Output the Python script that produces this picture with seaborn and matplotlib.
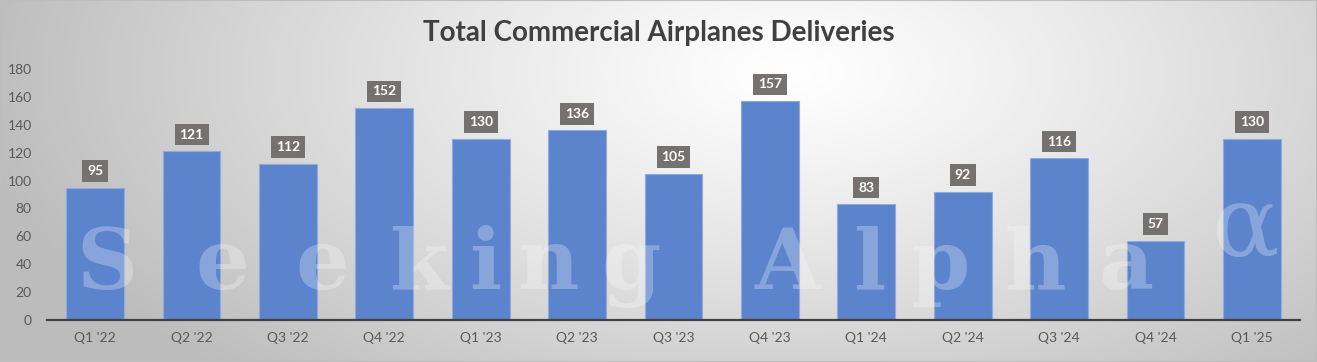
import numpy as np
import pandas as pd
import matplotlib
matplotlib.use("Agg")
import matplotlib.pyplot as plt
import seaborn as sns
from matplotlib.patches import Rectangle

quarters = ["Q1 '22", "Q2 '22", "Q3 '22", "Q4 '22", "Q1 '23", "Q2 '23", "Q3 '23",
            "Q4 '23", "Q1 '24", "Q2 '24", "Q3 '24", "Q4 '24", "Q1 '25"]
deliveries = [95, 121, 112, 152, 130, 136, 105, 157, 83, 92, 116, 57, 130]
yticks = [0, 20, 40, 60, 80, 100, 120, 140, 160, 180]
title = "Total Commercial Airplanes Deliveries"
watermark_chars = list("SeekingAlphaα")
watermark_x_px = [107, 222, 322, 419, 485, 548, 631, 788, 869, 941, 1035, 1126, 1246]

sns.set_theme(style="white")
plt.rcParams['font.family'] = ['Lato', 'DejaVu Sans']

df = pd.DataFrame({"quarter": quarters, "deliveries": deliveries})

W, H = 1317, 362
fig = plt.figure(figsize=(W / 100, H / 100), dpi=100)

# radial gradient background
bg = fig.add_axes([0, 0, 1, 1], zorder=-10)
yy, xx = np.mgrid[0:H, 0:W]
cx, cy = 0.6 * W, 0.2 * H
r = np.sqrt(((xx - cx) / W) ** 2 + ((yy - cy) / H * 0.55) ** 2)
r = np.clip(r / 0.62, 0, 1)
light, dark = 1.0, 0.74
val = light - (light - dark) * r ** 1.15
img = np.dstack([val, val, val])
bg.imshow(img, aspect='auto', extent=[0, 1, 0, 1], origin='upper')
bg.set_xlim(0, 1)
bg.set_ylim(0, 1)
bg.add_patch(Rectangle((0, 0), 1, 1, fill=False, ec="#bdbdbd", lw=1.5,
                       transform=bg.transAxes, clip_on=False))
bg.set_axis_off()

ax = fig.add_axes([47 / W, 1 - 320 / H, (1300 - 47) / W, (320 - 69) / H])
ax.patch.set_alpha(0)

sns.barplot(data=df, x="quarter", y="deliveries", ax=ax, color="#5B84CD",
            width=0.6, edgecolor="#8FAADC", linewidth=0.8, saturation=1, zorder=2)

ax.set_ylim(0, 180)
ax.set_yticks(yticks)
ax.set_xlim(-0.5, len(quarters) - 0.5)
ax.set_xlabel("")
ax.set_ylabel("")
for s in ["top", "right", "left"]:
    ax.spines[s].set_visible(False)
ax.spines["bottom"].set_color("#404040")
ax.spines["bottom"].set_linewidth(1.6)
ax.tick_params(axis='both', length=0, labelsize=10, colors="#595959")
ax.tick_params(axis='x', pad=9)
ax.tick_params(axis='y', pad=11)

for i, v in enumerate(deliveries):
    ax.annotate(str(v), xy=(i, v), xytext=(0, 12), textcoords="offset points",
                ha="center", va="center", fontsize=10, fontweight="bold", color="white",
                bbox=dict(boxstyle="square,pad=0.35", fc="#767171", ec="none"), zorder=4)

# watermark
for ch, xp in zip(watermark_chars, watermark_x_px):
    if ch == "α":
        fig.text(xp / W, 1 - 229 / H, ch, ha="center", va="center", fontsize=72,
                 family="DejaVu Serif", color="white", alpha=0.27, zorder=5)
    else:
        fig.text(xp / W, 1 - 289 / H, ch, ha="center", va="baseline", fontsize=61,
                 family="DejaVu Serif", fontweight="bold", color="white", alpha=0.27, zorder=5)

fig.text(0.5, 1 - 33 / H, title, ha="center", va="center", fontsize=20,
         fontweight="bold", color="#404040")

fig.savefig("out.png", dpi=100)
